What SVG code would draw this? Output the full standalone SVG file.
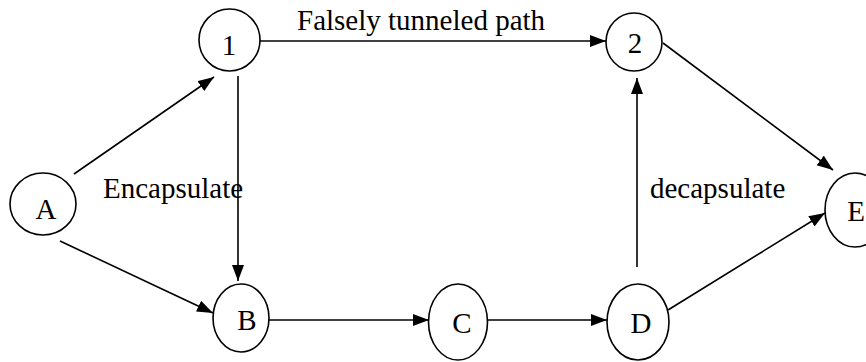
<svg xmlns="http://www.w3.org/2000/svg" width="866" height="362" viewBox="0 0 866 362">
<style>
.node{fill:#fff;stroke:#000;stroke-width:1.6}
.lbl{font-family:"Liberation Serif","Times New Roman",serif;font-size:29px;fill:#000}
.nl{font-family:"Liberation Serif","Times New Roman",serif;font-size:29px;fill:#000;text-anchor:middle}
.edge{stroke:#000;stroke-width:1.6;fill:none;marker-end:url(#arr)}
</style>
<defs>
<marker id="arr" markerUnits="userSpaceOnUse" markerWidth="17" markerHeight="13" refX="16" refY="6" orient="auto">
<path d="M0,0 L16,6 L0,12 z" fill="#000"/>
</marker>
</defs>
<rect width="866" height="362" fill="#fff"/>
<g id="connectors">
<line class="edge" x1="74" y1="174" x2="214" y2="77"/>
<line class="edge" x1="60" y1="241" x2="213" y2="313"/>
<line class="edge" x1="238" y1="76" x2="238" y2="281"/>
<line class="edge" x1="260" y1="41" x2="606" y2="41"/>
<line class="edge" x1="663" y1="43" x2="833" y2="170"/>
<line class="edge" x1="637" y1="267" x2="637" y2="78"/>
<line class="edge" x1="269" y1="320" x2="429" y2="320"/>
<line class="edge" x1="487" y1="320" x2="607" y2="320"/>
<line class="edge" x1="668" y1="310" x2="825" y2="213"/>
</g>
<g id="labels">
<text class="lbl" x="297" y="30">Falsely tunneled path</text>
<text class="lbl" x="103" y="198">Encapsulate</text>
<text class="lbl" x="650" y="198">decapsulate</text>
</g>
<g id="node-1"><ellipse class="node" cx="229.5" cy="40" rx="30.5" ry="31"/><text class="nl" x="229" y="55">1</text></g>
<g id="node-2"><ellipse class="node" cx="634" cy="42" rx="28" ry="29"/><text class="nl" x="635" y="53">2</text></g>
<g id="node-A"><ellipse class="node" cx="43" cy="204" rx="33" ry="31"/><text class="nl" x="46" y="219">A</text></g>
<g id="node-B"><ellipse class="node" cx="241" cy="318" rx="28" ry="34"/><text class="nl" x="247" y="330">B</text></g>
<g id="node-C"><ellipse class="node" cx="458" cy="322" rx="29.5" ry="38"/><text class="nl" x="462" y="333">C</text></g>
<g id="node-D"><ellipse class="node" cx="638" cy="322" rx="31" ry="38"/><text class="nl" x="641" y="333">D</text></g>
<g id="node-E"><ellipse class="node" cx="855" cy="210" rx="30" ry="37"/><text class="nl" x="856" y="221">E</text></g>
</svg>
